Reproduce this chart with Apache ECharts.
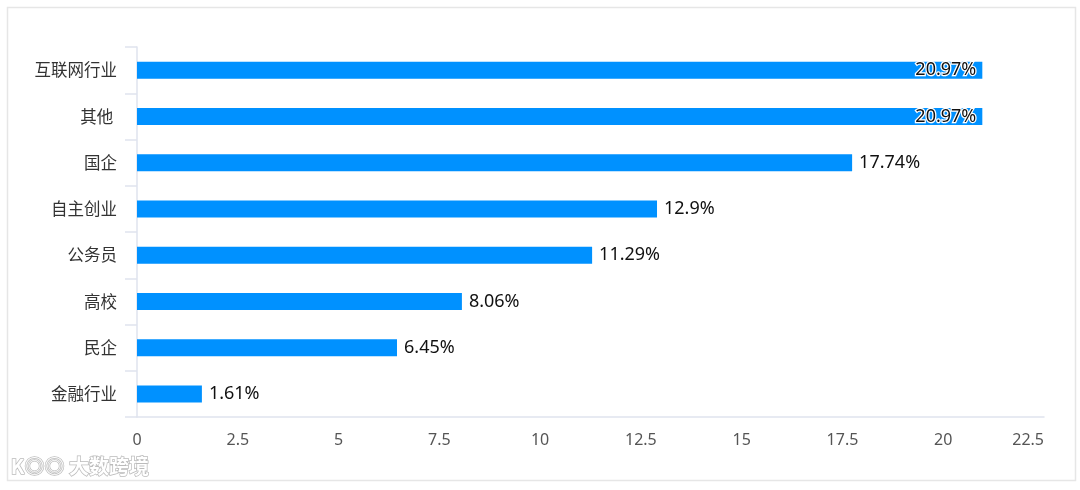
<!DOCTYPE html>
<html><head><meta charset="utf-8">
<script src="https://cdn.jsdelivr.net/npm/echarts@6/dist/echarts.min.js"></script>
<style>html,body{margin:0;padding:0;background:#fff}#c{width:1080px;height:490px}</style>
</head><body><div id="c"></div>
<script>
const categories = ['互联网行业', '其他 ', '国企', '自主创业', '公务员', '高校', '民企', '金融行业'];
const values = [20.97, 20.97, 17.74, 12.9, 11.29, 8.06, 6.45, 1.61];
const xTicks = [0, 2.5, 5, 7.5, 10, 12.5, 15, 17.5, 20, 22.5];

const chart = echarts.init(document.getElementById('c'));
const data = values.map(v => {
  if (v > 20) {
    return { value: v, label: { position: 'insideRight', distance: 6, color: '#111', textBorderColor: '#fff', textBorderWidth: 2.5 } };
  }
  return v;
});
chart.setOption({
  animation: false,
  graphic: [
    { type: 'rect', left: 5, top: 5, shape: { width: 1068, height: 473 }, style: { fill: 'none', stroke: '#e6e6e6', lineWidth: 1.5 } },
    { type: 'text', left: 10, top: 456, style: { text: 'K◎◎ 大数跨境', fill: '#fff', stroke: '#bbb', lineWidth: 1.5, font: 'bold 20px "Noto Sans CJK SC"' } }
  ],
  grid: { left: 137, right: 36, top: 47, bottom: 73 },
  xAxis: {
    type: 'value', min: xTicks[0], max: xTicks[xTicks.length - 1], interval: 2.5,
    axisLine: { show: true, lineStyle: { color: '#dfe3ee', width: 1.5 } },
    axisTick: { show: false },
    splitLine: { show: false },
    axisLabel: { color: '#555', fontSize: 16, margin: 15, alignMaxLabel: 'right', fontFamily: '"Noto Sans", "Noto Sans CJK SC"' }
  },
  yAxis: {
    type: 'category', data: categories, inverse: true,
    axisLine: { show: true, lineStyle: { color: '#dfe3ee', width: 1.5 } },
    axisTick: { show: true, length: 12, lineStyle: { color: '#dfe3ee', width: 1.5 } },
    axisLabel: { color: '#333', fontSize: 16.5, margin: 20, fontFamily: '"Noto Sans CJK SC"' }
  },
  series: [{
    type: 'bar', data: data, barWidth: 17,
    itemStyle: { color: '#0091ff' },
    label: { show: true, position: 'right', distance: 7, formatter: p => p.value + '%', color: '#111', fontSize: 18, fontFamily: '"Noto Sans", "Noto Sans CJK SC"' }
  }]
});
</script></body></html>
